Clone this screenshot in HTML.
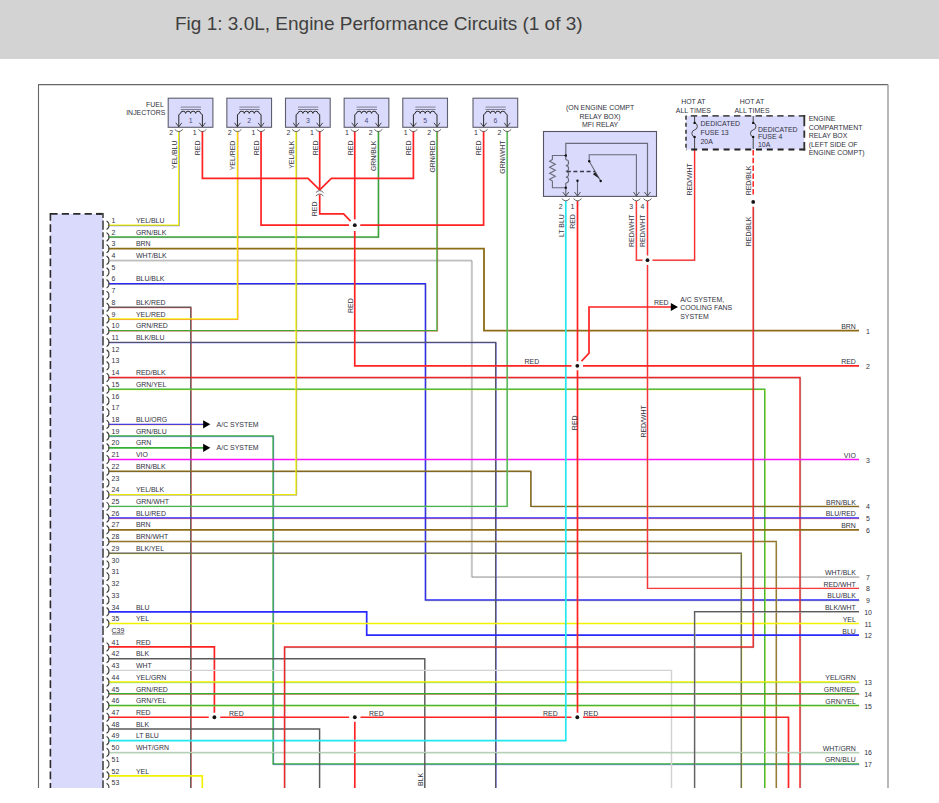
<!DOCTYPE html>
<html><head><meta charset="utf-8">
<style>
html,body{margin:0;padding:0;background:#fff;width:939px;height:803px;overflow:hidden;}
#hdr{position:absolute;left:0;top:0;width:939px;height:59px;background:#d3d3d3;}
#ttl{position:absolute;left:175px;top:12.5px;font-family:"Liberation Sans",sans-serif;font-size:19px;color:#404040;white-space:nowrap;}
svg{position:absolute;left:0;top:0;}
text{font-family:"Liberation Sans",sans-serif;}
</style></head><body>
<div id="hdr"><div id="ttl">Fig 1: 3.0L, Engine Performance Circuits (1 of 3)</div></div>
<svg width="939" height="803" viewBox="0 0 939 803">
<defs><clipPath id="cp"><rect x="0" y="60" width="939" height="728.0"/></clipPath></defs>
<g clip-path="url(#cp)">
<rect x="0" y="60" width="939" height="743" fill="#fff"/>
<path d="M38.5,788.0 V84.6 H888" stroke="#666" stroke-width="1.1" fill="none"/>
<path d="M888,84.6 V788.0" stroke="#9a9a9a" stroke-width="1.4" fill="none"/>
<rect x="50.4" y="213.8" width="52.6" height="600" fill="#dadafc"/>
<path d="M50.4,213.8 H103" stroke="#2a2a2a" stroke-width="1.8" stroke-dasharray="7.2,4.2" fill="none"/>
<path d="M103,213.8 H96.2" stroke="#2a2a2a" stroke-width="1.8" fill="none"/>
<path d="M50.4,212.9 V800" stroke="#2a2a2a" stroke-width="1.6" stroke-dasharray="7.8,3.6" fill="none"/>
<path d="M103,212.9 V800" stroke="#505050" stroke-width="1.7" stroke-dasharray="5.1,2.5,9.2,2.5" stroke-dashoffset="0" fill="none"/>
<path d="M108.60,225.20 L178.80,225.20 L178.80,131.00" stroke="#f2f200" stroke-width="1.45" fill="none" />
<path d="M108.60,225.20 L178.80,225.20 L178.80,131.00" stroke="#2a2aff" stroke-width="0.7" fill="none" opacity="0.5" transform="translate(0.7,0.7)" />
<path d="M108.60,236.91 L378.35,236.91 L378.35,131.00" stroke="#35b035" stroke-width="1.45" fill="none" />
<path d="M108.60,236.91 L378.35,236.91 L378.35,131.00" stroke="#5a5a5a" stroke-width="0.7" fill="none" opacity="0.5" transform="translate(0.7,0.7)" />
<path d="M108.60,248.63 L484.00,248.63 L484.00,330.63 L859.00,330.63" stroke="#8c6c14" stroke-width="1.8" fill="none" />
<path d="M108.60,260.34 L471.50,260.34 L471.50,576.65 L859.00,576.65" stroke="#d2d2d2" stroke-width="1.45" fill="none" />
<path d="M108.60,260.34 L471.50,260.34 L471.50,576.65 L859.00,576.65" stroke="#5a5a5a" stroke-width="0.7" fill="none" opacity="0.5" transform="translate(0.7,0.7)" />
<path d="M108.60,283.77 L425.40,283.77 L425.40,600.08 L859.00,600.08" stroke="#2a2aff" stroke-width="1.45" fill="none" />
<path d="M108.60,283.77 L425.40,283.77 L425.40,600.08 L859.00,600.08" stroke="#5a5a5a" stroke-width="0.7" fill="none" opacity="0.5" transform="translate(0.7,0.7)" />
<path d="M108.60,307.20 L190.80,307.20 L190.80,788.00" stroke="#5a5a5a" stroke-width="1.45" fill="none" />
<path d="M108.60,307.20 L190.80,307.20 L190.80,788.00" stroke="#ff2222" stroke-width="0.7" fill="none" opacity="0.5" transform="translate(0.7,0.7)" />
<path d="M108.60,318.92 L237.45,318.92 L237.45,131.00" stroke="#f2f200" stroke-width="1.45" fill="none" />
<path d="M108.60,318.92 L237.45,318.92 L237.45,131.00" stroke="#ff2222" stroke-width="0.7" fill="none" opacity="0.5" transform="translate(0.7,0.7)" />
<path d="M108.60,330.63 L437.00,330.63 L437.00,131.00" stroke="#35b035" stroke-width="1.45" fill="none" />
<path d="M108.60,330.63 L437.00,330.63 L437.00,131.00" stroke="#ff2222" stroke-width="0.7" fill="none" opacity="0.5" transform="translate(0.7,0.7)" />
<path d="M108.60,342.35 L495.70,342.35 L495.70,788.00" stroke="#5a5a5a" stroke-width="1.45" fill="none" />
<path d="M108.60,342.35 L495.70,342.35 L495.70,788.00" stroke="#2a2aff" stroke-width="0.7" fill="none" opacity="0.5" transform="translate(0.7,0.7)" />
<path d="M108.60,377.50 L800.00,377.50 L800.00,788.00" stroke="#ff2222" stroke-width="1.45" fill="none" />
<path d="M108.60,377.50 L800.00,377.50 L800.00,788.00" stroke="#5a5a5a" stroke-width="0.7" fill="none" opacity="0.5" transform="translate(0.7,0.7)" />
<path d="M108.60,389.21 L764.80,389.21 L764.80,788.00" stroke="#35b035" stroke-width="1.45" fill="none" />
<path d="M108.60,389.21 L764.80,389.21 L764.80,788.00" stroke="#f2f200" stroke-width="0.7" fill="none" opacity="0.5" transform="translate(0.7,0.7)" />
<path d="M108.60,424.36 L204.00,424.36" stroke="#2a2aff" stroke-width="1.45" fill="none" />
<path d="M108.60,424.36 L204.00,424.36" stroke="#ff9900" stroke-width="0.7" fill="none" opacity="0.5" transform="translate(0.7,0.7)" />
<path d="M108.60,436.07 L273.10,436.07 L273.10,764.09 L859.00,764.09" stroke="#35b035" stroke-width="1.45" fill="none" />
<path d="M108.60,436.07 L273.10,436.07 L273.10,764.09 L859.00,764.09" stroke="#2a2aff" stroke-width="0.7" fill="none" opacity="0.5" transform="translate(0.7,0.7)" />
<path d="M108.60,447.78 L204.00,447.78" stroke="#35b035" stroke-width="1.7" fill="none" />
<path d="M108.60,459.50 L859.00,459.50" stroke="#ff10ff" stroke-width="1.45" fill="none" />
<path d="M108.60,471.21 L530.80,471.21 L530.80,506.36 L859.00,506.36" stroke="#8c6c14" stroke-width="1.45" fill="none" />
<path d="M108.60,471.21 L530.80,471.21 L530.80,506.36 L859.00,506.36" stroke="#5a5a5a" stroke-width="0.7" fill="none" opacity="0.5" transform="translate(0.7,0.7)" />
<path d="M108.60,494.64 L296.10,494.64 L296.10,131.00" stroke="#f2f200" stroke-width="1.45" fill="none" />
<path d="M108.60,494.64 L296.10,494.64 L296.10,131.00" stroke="#5a5a5a" stroke-width="0.7" fill="none" opacity="0.5" transform="translate(0.7,0.7)" />
<path d="M108.60,506.36 L507.20,506.36 L507.20,131.00" stroke="#35b035" stroke-width="1.45" fill="none" />
<path d="M108.60,506.36 L507.20,506.36 L507.20,131.00" stroke="#d2d2d2" stroke-width="0.7" fill="none" opacity="0.5" transform="translate(0.7,0.7)" />
<path d="M108.60,518.08 L859.00,518.08" stroke="#2a2aff" stroke-width="1.45" fill="none" />
<path d="M108.60,518.08 L859.00,518.08" stroke="#ff2222" stroke-width="0.7" fill="none" opacity="0.5" transform="translate(0.7,0.7)" />
<path d="M108.60,529.79 L859.00,529.79" stroke="#8c6c14" stroke-width="1.8" fill="none" />
<path d="M108.60,541.50 L776.30,541.50 L776.30,788.00" stroke="#8c6c14" stroke-width="1.45" fill="none" />
<path d="M108.60,541.50 L776.30,541.50 L776.30,788.00" stroke="#d2d2d2" stroke-width="0.7" fill="none" opacity="0.5" transform="translate(0.7,0.7)" />
<path d="M108.60,553.22 L741.30,553.22 L741.30,788.00" stroke="#5a5a5a" stroke-width="1.45" fill="none" />
<path d="M108.60,553.22 L741.30,553.22 L741.30,788.00" stroke="#f2f200" stroke-width="0.7" fill="none" opacity="0.5" transform="translate(0.7,0.7)" />
<path d="M108.60,611.79 L366.70,611.79 L366.70,635.22 L859.00,635.22" stroke="#2a2aff" stroke-width="1.7" fill="none" />
<path d="M108.60,623.51 L859.00,623.51" stroke="#f2f200" stroke-width="1.7" fill="none" />
<path d="M108.60,646.94 L214.40,646.94 L214.40,712.73" stroke="#ff2222" stroke-width="1.7" fill="none" />
<path d="M108.60,658.65 L424.80,658.65 L424.80,788.00" stroke="#5a5a5a" stroke-width="1.45" fill="none" />
<path d="M108.60,670.37 L671.50,670.37 L671.50,788.00" stroke="#d2d2d2" stroke-width="1.45" fill="none" />
<path d="M108.60,682.09 L859.00,682.09" stroke="#f2f200" stroke-width="1.45" fill="none" />
<path d="M108.60,682.09 L859.00,682.09" stroke="#35b035" stroke-width="0.7" fill="none" opacity="0.5" transform="translate(0.7,0.7)" />
<path d="M108.60,693.80 L859.00,693.80" stroke="#35b035" stroke-width="1.45" fill="none" />
<path d="M108.60,693.80 L859.00,693.80" stroke="#ff2222" stroke-width="0.7" fill="none" opacity="0.5" transform="translate(0.7,0.7)" />
<path d="M108.60,705.51 L859.00,705.51" stroke="#35b035" stroke-width="1.45" fill="none" />
<path d="M108.60,705.51 L859.00,705.51" stroke="#f2f200" stroke-width="0.7" fill="none" opacity="0.5" transform="translate(0.7,0.7)" />
<path d="M108.60,717.23 L208.80,717.23" stroke="#ff2222" stroke-width="1.7" fill="none" />
<path d="M220.20,717.23 L349.20,717.23" stroke="#ff2222" stroke-width="1.7" fill="none" />
<path d="M360.50,717.23 L571.50,717.23" stroke="#ff2222" stroke-width="1.7" fill="none" />
<path d="M583.00,717.23 L788.50,717.23 L788.50,788.00" stroke="#ff2222" stroke-width="1.7" fill="none" />
<path d="M354.80,721.73 L354.80,788.00" stroke="#ff2222" stroke-width="1.7" fill="none" />
<path d="M108.60,728.94 L319.60,728.94 L319.60,788.00" stroke="#5a5a5a" stroke-width="1.45" fill="none" />
<path d="M108.60,740.66 L565.80,740.66 L565.80,201.00" stroke="#22e8ee" stroke-width="1.7" fill="none" />
<path d="M108.60,752.38 L859.00,752.38" stroke="#d2d2d2" stroke-width="1.45" fill="none" />
<path d="M108.60,752.38 L859.00,752.38" stroke="#35b035" stroke-width="0.7" fill="none" opacity="0.5" transform="translate(0.7,0.7)" />
<path d="M108.60,775.81 L202.30,775.81 L202.30,788.00" stroke="#f2f200" stroke-width="1.7" fill="none" />
<path d="M577.50,201.00 L577.50,361.28" stroke="#ff2222" stroke-width="1.7" fill="none" />
<path d="M577.50,370.28 L577.50,712.73" stroke="#ff2222" stroke-width="1.7" fill="none" />
<path d="M636.40,201.00 L636.40,260.20 L642.50,260.20" stroke="#ff2222" stroke-width="1.45" fill="none" />
<path d="M636.40,201.00 L636.40,260.20 L642.50,260.20" stroke="#d2d2d2" stroke-width="0.7" fill="none" opacity="0.5" transform="translate(0.7,0.7)" />
<path d="M652.50,260.20 L694.60,260.20 L694.60,149.00" stroke="#ff2222" stroke-width="1.45" fill="none" />
<path d="M652.50,260.20 L694.60,260.20 L694.60,149.00" stroke="#d2d2d2" stroke-width="0.7" fill="none" opacity="0.5" transform="translate(0.7,0.7)" />
<path d="M647.50,201.00 L647.50,255.50" stroke="#ff2222" stroke-width="1.45" fill="none" />
<path d="M647.50,201.00 L647.50,255.50" stroke="#d2d2d2" stroke-width="0.7" fill="none" opacity="0.5" transform="translate(0.7,0.7)" />
<path d="M647.50,265.00 L647.50,588.37 L859.00,588.37" stroke="#ff2222" stroke-width="1.45" fill="none" />
<path d="M647.50,265.00 L647.50,588.37 L859.00,588.37" stroke="#d2d2d2" stroke-width="0.7" fill="none" opacity="0.5" transform="translate(0.7,0.7)" />
<path d="M753.2,150 L753.2,196.5" stroke="#ff2222" stroke-width="1.5" stroke-dasharray="5.5,2.3" fill="none"/>
<path d="M753.20,206.70 L753.20,646.94 L284.50,646.94 L284.50,788.00" stroke="#ff2222" stroke-width="1.45" fill="none" />
<path d="M753.20,206.70 L753.20,646.94 L284.50,646.94 L284.50,788.00" stroke="#5a5a5a" stroke-width="0.7" fill="none" opacity="0.5" transform="translate(0.7,0.7)" />
<path d="M694.60,788.00 L694.60,611.79 L859.00,611.79" stroke="#5a5a5a" stroke-width="1.45" fill="none" />
<path d="M694.60,788.00 L694.60,611.79 L859.00,611.79" stroke="#d2d2d2" stroke-width="0.7" fill="none" opacity="0.5" transform="translate(0.7,0.7)" />
<path d="M354.75,131.00 L354.75,219.40" stroke="#ff2222" stroke-width="1.7" fill="none" />
<path d="M354.75,231.00 L354.75,365.78 L571.50,365.78" stroke="#ff2222" stroke-width="1.7" fill="none" />
<path d="M583.00,365.78 L859.00,365.78" stroke="#ff2222" stroke-width="1.7" fill="none" />
<path d="M581.50,361.28 L589.00,353.20 L589.00,307.00 L671.00,307.00" stroke="#ff2222" stroke-width="1.7" fill="none" />
<path d="M202.40,131.00 L202.40,178.30 L308.00,178.30 L319.70,189.80" stroke="#ff2222" stroke-width="1.7" fill="none" />
<path d="M413.40,131.00 L413.40,178.30 L331.40,178.30 L319.70,189.80" stroke="#ff2222" stroke-width="1.7" fill="none" />
<path d="M319.70,131.00 L319.70,189.80" stroke="#ff2222" stroke-width="1.7" fill="none" />
<path d="M319.70,194.50 L319.70,213.80 L343.60,213.80 L350.60,221.20" stroke="#ff2222" stroke-width="1.7" fill="none" />
<path d="M261.05,131.00 L261.05,225.20 L349.00,225.20" stroke="#ff2222" stroke-width="1.7" fill="none" />
<path d="M360.30,225.20 L483.60,225.20 L483.60,131.00" stroke="#ff2222" stroke-width="1.7" fill="none" />
<path d="M106.6,220.90 Q109.6,223.20 108.8,225.20 Q109.6,227.20 106.6,229.50" stroke="#3a3a3a" stroke-width="1.05" fill="none"/>
<text x="111.60" y="222.90" font-size="6.95" text-anchor="start" fill="#32323e" >1</text>
<text x="135.90" y="222.90" font-size="6.95" text-anchor="start" fill="#32323e" >YEL/BLU</text>
<path d="M106.6,232.61 Q109.6,234.91 108.8,236.91 Q109.6,238.91 106.6,241.22" stroke="#3a3a3a" stroke-width="1.05" fill="none"/>
<text x="111.60" y="234.61" font-size="6.95" text-anchor="start" fill="#32323e" >2</text>
<text x="135.90" y="234.61" font-size="6.95" text-anchor="start" fill="#32323e" >GRN/BLK</text>
<path d="M106.6,244.33 Q109.6,246.63 108.8,248.63 Q109.6,250.63 106.6,252.93" stroke="#3a3a3a" stroke-width="1.05" fill="none"/>
<text x="111.60" y="246.33" font-size="6.95" text-anchor="start" fill="#32323e" >3</text>
<text x="135.90" y="246.33" font-size="6.95" text-anchor="start" fill="#32323e" >BRN</text>
<path d="M106.6,256.04 Q109.6,258.34 108.8,260.34 Q109.6,262.34 106.6,264.64" stroke="#3a3a3a" stroke-width="1.05" fill="none"/>
<text x="111.60" y="258.04" font-size="6.95" text-anchor="start" fill="#32323e" >4</text>
<text x="135.90" y="258.04" font-size="6.95" text-anchor="start" fill="#32323e" >WHT/BLK</text>
<path d="M106.6,267.76 Q109.6,270.06 108.8,272.06 Q109.6,274.06 106.6,276.36" stroke="#3a3a3a" stroke-width="1.05" fill="none"/>
<text x="111.60" y="269.76" font-size="6.95" text-anchor="start" fill="#32323e" >5</text>
<path d="M106.6,279.47 Q109.6,281.77 108.8,283.77 Q109.6,285.77 106.6,288.07" stroke="#3a3a3a" stroke-width="1.05" fill="none"/>
<text x="111.60" y="281.47" font-size="6.95" text-anchor="start" fill="#32323e" >6</text>
<text x="135.90" y="281.47" font-size="6.95" text-anchor="start" fill="#32323e" >BLU/BLK</text>
<path d="M106.6,291.19 Q109.6,293.49 108.8,295.49 Q109.6,297.49 106.6,299.79" stroke="#3a3a3a" stroke-width="1.05" fill="none"/>
<text x="111.60" y="293.19" font-size="6.95" text-anchor="start" fill="#32323e" >7</text>
<path d="M106.6,302.90 Q109.6,305.20 108.8,307.20 Q109.6,309.20 106.6,311.50" stroke="#3a3a3a" stroke-width="1.05" fill="none"/>
<text x="111.60" y="304.90" font-size="6.95" text-anchor="start" fill="#32323e" >8</text>
<text x="135.90" y="304.90" font-size="6.95" text-anchor="start" fill="#32323e" >BLK/RED</text>
<path d="M106.6,314.62 Q109.6,316.92 108.8,318.92 Q109.6,320.92 106.6,323.22" stroke="#3a3a3a" stroke-width="1.05" fill="none"/>
<text x="111.60" y="316.62" font-size="6.95" text-anchor="start" fill="#32323e" >9</text>
<text x="135.90" y="316.62" font-size="6.95" text-anchor="start" fill="#32323e" >YEL/RED</text>
<path d="M106.6,326.33 Q109.6,328.63 108.8,330.63 Q109.6,332.63 106.6,334.94" stroke="#3a3a3a" stroke-width="1.05" fill="none"/>
<text x="111.60" y="328.33" font-size="6.95" text-anchor="start" fill="#32323e" >10</text>
<text x="135.90" y="328.33" font-size="6.95" text-anchor="start" fill="#32323e" >GRN/RED</text>
<path d="M106.6,338.05 Q109.6,340.35 108.8,342.35 Q109.6,344.35 106.6,346.65" stroke="#3a3a3a" stroke-width="1.05" fill="none"/>
<text x="111.60" y="340.05" font-size="6.95" text-anchor="start" fill="#32323e" >11</text>
<text x="135.90" y="340.05" font-size="6.95" text-anchor="start" fill="#32323e" >BLK/BLU</text>
<path d="M106.6,349.76 Q109.6,352.06 108.8,354.06 Q109.6,356.06 106.6,358.37" stroke="#3a3a3a" stroke-width="1.05" fill="none"/>
<text x="111.60" y="351.76" font-size="6.95" text-anchor="start" fill="#32323e" >12</text>
<path d="M106.6,361.48 Q109.6,363.78 108.8,365.78 Q109.6,367.78 106.6,370.08" stroke="#3a3a3a" stroke-width="1.05" fill="none"/>
<text x="111.60" y="363.48" font-size="6.95" text-anchor="start" fill="#32323e" >13</text>
<path d="M106.6,373.19 Q109.6,375.50 108.8,377.50 Q109.6,379.50 106.6,381.80" stroke="#3a3a3a" stroke-width="1.05" fill="none"/>
<text x="111.60" y="375.19" font-size="6.95" text-anchor="start" fill="#32323e" >14</text>
<text x="135.90" y="375.19" font-size="6.95" text-anchor="start" fill="#32323e" >RED/BLK</text>
<path d="M106.6,384.91 Q109.6,387.21 108.8,389.21 Q109.6,391.21 106.6,393.51" stroke="#3a3a3a" stroke-width="1.05" fill="none"/>
<text x="111.60" y="386.91" font-size="6.95" text-anchor="start" fill="#32323e" >15</text>
<text x="135.90" y="386.91" font-size="6.95" text-anchor="start" fill="#32323e" >GRN/YEL</text>
<path d="M106.6,396.62 Q109.6,398.92 108.8,400.92 Q109.6,402.92 106.6,405.22" stroke="#3a3a3a" stroke-width="1.05" fill="none"/>
<text x="111.60" y="398.62" font-size="6.95" text-anchor="start" fill="#32323e" >16</text>
<path d="M106.6,408.34 Q109.6,410.64 108.8,412.64 Q109.6,414.64 106.6,416.94" stroke="#3a3a3a" stroke-width="1.05" fill="none"/>
<text x="111.60" y="410.34" font-size="6.95" text-anchor="start" fill="#32323e" >17</text>
<path d="M106.6,420.06 Q109.6,422.36 108.8,424.36 Q109.6,426.36 106.6,428.66" stroke="#3a3a3a" stroke-width="1.05" fill="none"/>
<text x="111.60" y="422.06" font-size="6.95" text-anchor="start" fill="#32323e" >18</text>
<text x="135.90" y="422.06" font-size="6.95" text-anchor="start" fill="#32323e" >BLU/ORG</text>
<path d="M106.6,431.77 Q109.6,434.07 108.8,436.07 Q109.6,438.07 106.6,440.37" stroke="#3a3a3a" stroke-width="1.05" fill="none"/>
<text x="111.60" y="433.77" font-size="6.95" text-anchor="start" fill="#32323e" >19</text>
<text x="135.90" y="433.77" font-size="6.95" text-anchor="start" fill="#32323e" >GRN/BLU</text>
<path d="M106.6,443.48 Q109.6,445.78 108.8,447.78 Q109.6,449.78 106.6,452.08" stroke="#3a3a3a" stroke-width="1.05" fill="none"/>
<text x="111.60" y="445.48" font-size="6.95" text-anchor="start" fill="#32323e" >20</text>
<text x="135.90" y="445.48" font-size="6.95" text-anchor="start" fill="#32323e" >GRN</text>
<path d="M106.6,455.20 Q109.6,457.50 108.8,459.50 Q109.6,461.50 106.6,463.80" stroke="#3a3a3a" stroke-width="1.05" fill="none"/>
<text x="111.60" y="457.20" font-size="6.95" text-anchor="start" fill="#32323e" >21</text>
<text x="135.90" y="457.20" font-size="6.95" text-anchor="start" fill="#32323e" >VIO</text>
<path d="M106.6,466.91 Q109.6,469.21 108.8,471.21 Q109.6,473.21 106.6,475.51" stroke="#3a3a3a" stroke-width="1.05" fill="none"/>
<text x="111.60" y="468.91" font-size="6.95" text-anchor="start" fill="#32323e" >22</text>
<text x="135.90" y="468.91" font-size="6.95" text-anchor="start" fill="#32323e" >BRN/BLK</text>
<path d="M106.6,478.63 Q109.6,480.93 108.8,482.93 Q109.6,484.93 106.6,487.23" stroke="#3a3a3a" stroke-width="1.05" fill="none"/>
<text x="111.60" y="480.63" font-size="6.95" text-anchor="start" fill="#32323e" >23</text>
<path d="M106.6,490.34 Q109.6,492.64 108.8,494.64 Q109.6,496.64 106.6,498.94" stroke="#3a3a3a" stroke-width="1.05" fill="none"/>
<text x="111.60" y="492.34" font-size="6.95" text-anchor="start" fill="#32323e" >24</text>
<text x="135.90" y="492.34" font-size="6.95" text-anchor="start" fill="#32323e" >YEL/BLK</text>
<path d="M106.6,502.06 Q109.6,504.36 108.8,506.36 Q109.6,508.36 106.6,510.66" stroke="#3a3a3a" stroke-width="1.05" fill="none"/>
<text x="111.60" y="504.06" font-size="6.95" text-anchor="start" fill="#32323e" >25</text>
<text x="135.90" y="504.06" font-size="6.95" text-anchor="start" fill="#32323e" >GRN/WHT</text>
<path d="M106.6,513.78 Q109.6,516.08 108.8,518.08 Q109.6,520.08 106.6,522.38" stroke="#3a3a3a" stroke-width="1.05" fill="none"/>
<text x="111.60" y="515.78" font-size="6.95" text-anchor="start" fill="#32323e" >26</text>
<text x="135.90" y="515.78" font-size="6.95" text-anchor="start" fill="#32323e" >BLU/RED</text>
<path d="M106.6,525.49 Q109.6,527.79 108.8,529.79 Q109.6,531.79 106.6,534.09" stroke="#3a3a3a" stroke-width="1.05" fill="none"/>
<text x="111.60" y="527.49" font-size="6.95" text-anchor="start" fill="#32323e" >27</text>
<text x="135.90" y="527.49" font-size="6.95" text-anchor="start" fill="#32323e" >BRN</text>
<path d="M106.6,537.21 Q109.6,539.50 108.8,541.50 Q109.6,543.50 106.6,545.80" stroke="#3a3a3a" stroke-width="1.05" fill="none"/>
<text x="111.60" y="539.21" font-size="6.95" text-anchor="start" fill="#32323e" >28</text>
<text x="135.90" y="539.21" font-size="6.95" text-anchor="start" fill="#32323e" >BRN/WHT</text>
<path d="M106.6,548.92 Q109.6,551.22 108.8,553.22 Q109.6,555.22 106.6,557.52" stroke="#3a3a3a" stroke-width="1.05" fill="none"/>
<text x="111.60" y="550.92" font-size="6.95" text-anchor="start" fill="#32323e" >29</text>
<text x="135.90" y="550.92" font-size="6.95" text-anchor="start" fill="#32323e" >BLK/YEL</text>
<path d="M106.6,560.63 Q109.6,562.93 108.8,564.93 Q109.6,566.93 106.6,569.23" stroke="#3a3a3a" stroke-width="1.05" fill="none"/>
<text x="111.60" y="562.63" font-size="6.95" text-anchor="start" fill="#32323e" >30</text>
<path d="M106.6,572.35 Q109.6,574.65 108.8,576.65 Q109.6,578.65 106.6,580.95" stroke="#3a3a3a" stroke-width="1.05" fill="none"/>
<text x="111.60" y="574.35" font-size="6.95" text-anchor="start" fill="#32323e" >31</text>
<path d="M106.6,584.07 Q109.6,586.37 108.8,588.37 Q109.6,590.37 106.6,592.66" stroke="#3a3a3a" stroke-width="1.05" fill="none"/>
<text x="111.60" y="586.07" font-size="6.95" text-anchor="start" fill="#32323e" >32</text>
<path d="M106.6,595.78 Q109.6,598.08 108.8,600.08 Q109.6,602.08 106.6,604.38" stroke="#3a3a3a" stroke-width="1.05" fill="none"/>
<text x="111.60" y="597.78" font-size="6.95" text-anchor="start" fill="#32323e" >33</text>
<path d="M106.6,607.50 Q109.6,609.79 108.8,611.79 Q109.6,613.79 106.6,616.09" stroke="#3a3a3a" stroke-width="1.05" fill="none"/>
<text x="111.60" y="609.50" font-size="6.95" text-anchor="start" fill="#32323e" >34</text>
<text x="135.90" y="609.50" font-size="6.95" text-anchor="start" fill="#32323e" >BLU</text>
<path d="M106.6,619.21 Q109.6,621.51 108.8,623.51 Q109.6,625.51 106.6,627.81" stroke="#3a3a3a" stroke-width="1.05" fill="none"/>
<text x="111.60" y="621.21" font-size="6.95" text-anchor="start" fill="#32323e" >35</text>
<text x="135.90" y="621.21" font-size="6.95" text-anchor="start" fill="#32323e" >YEL</text>
<path d="M106.6,642.64 Q109.6,644.94 108.8,646.94 Q109.6,648.94 106.6,651.24" stroke="#3a3a3a" stroke-width="1.05" fill="none"/>
<text x="111.60" y="644.64" font-size="6.95" text-anchor="start" fill="#32323e" >41</text>
<text x="135.90" y="644.64" font-size="6.95" text-anchor="start" fill="#32323e" >RED</text>
<path d="M106.6,654.36 Q109.6,656.65 108.8,658.65 Q109.6,660.65 106.6,662.95" stroke="#3a3a3a" stroke-width="1.05" fill="none"/>
<text x="111.60" y="656.36" font-size="6.95" text-anchor="start" fill="#32323e" >42</text>
<text x="135.90" y="656.36" font-size="6.95" text-anchor="start" fill="#32323e" >BLK</text>
<path d="M106.6,666.07 Q109.6,668.37 108.8,670.37 Q109.6,672.37 106.6,674.67" stroke="#3a3a3a" stroke-width="1.05" fill="none"/>
<text x="111.60" y="668.07" font-size="6.95" text-anchor="start" fill="#32323e" >43</text>
<text x="135.90" y="668.07" font-size="6.95" text-anchor="start" fill="#32323e" >WHT</text>
<path d="M106.6,677.79 Q109.6,680.09 108.8,682.09 Q109.6,684.09 106.6,686.38" stroke="#3a3a3a" stroke-width="1.05" fill="none"/>
<text x="111.60" y="679.79" font-size="6.95" text-anchor="start" fill="#32323e" >44</text>
<text x="135.90" y="679.79" font-size="6.95" text-anchor="start" fill="#32323e" >YEL/GRN</text>
<path d="M106.6,689.50 Q109.6,691.80 108.8,693.80 Q109.6,695.80 106.6,698.10" stroke="#3a3a3a" stroke-width="1.05" fill="none"/>
<text x="111.60" y="691.50" font-size="6.95" text-anchor="start" fill="#32323e" >45</text>
<text x="135.90" y="691.50" font-size="6.95" text-anchor="start" fill="#32323e" >GRN/RED</text>
<path d="M106.6,701.22 Q109.6,703.51 108.8,705.51 Q109.6,707.51 106.6,709.81" stroke="#3a3a3a" stroke-width="1.05" fill="none"/>
<text x="111.60" y="703.22" font-size="6.95" text-anchor="start" fill="#32323e" >46</text>
<text x="135.90" y="703.22" font-size="6.95" text-anchor="start" fill="#32323e" >GRN/YEL</text>
<path d="M106.6,712.93 Q109.6,715.23 108.8,717.23 Q109.6,719.23 106.6,721.53" stroke="#3a3a3a" stroke-width="1.05" fill="none"/>
<text x="111.60" y="714.93" font-size="6.95" text-anchor="start" fill="#32323e" >47</text>
<text x="135.90" y="714.93" font-size="6.95" text-anchor="start" fill="#32323e" >RED</text>
<path d="M106.6,724.64 Q109.6,726.94 108.8,728.94 Q109.6,730.94 106.6,733.24" stroke="#3a3a3a" stroke-width="1.05" fill="none"/>
<text x="111.60" y="726.64" font-size="6.95" text-anchor="start" fill="#32323e" >48</text>
<text x="135.90" y="726.64" font-size="6.95" text-anchor="start" fill="#32323e" >BLK</text>
<path d="M106.6,736.36 Q109.6,738.66 108.8,740.66 Q109.6,742.66 106.6,744.96" stroke="#3a3a3a" stroke-width="1.05" fill="none"/>
<text x="111.60" y="738.36" font-size="6.95" text-anchor="start" fill="#32323e" >49</text>
<text x="135.90" y="738.36" font-size="6.95" text-anchor="start" fill="#32323e" >LT BLU</text>
<path d="M106.6,748.08 Q109.6,750.38 108.8,752.38 Q109.6,754.38 106.6,756.67" stroke="#3a3a3a" stroke-width="1.05" fill="none"/>
<text x="111.60" y="750.08" font-size="6.95" text-anchor="start" fill="#32323e" >50</text>
<text x="135.90" y="750.08" font-size="6.95" text-anchor="start" fill="#32323e" >WHT/GRN</text>
<path d="M106.6,759.79 Q109.6,762.09 108.8,764.09 Q109.6,766.09 106.6,768.39" stroke="#3a3a3a" stroke-width="1.05" fill="none"/>
<text x="111.60" y="761.79" font-size="6.95" text-anchor="start" fill="#32323e" >51</text>
<path d="M106.6,771.51 Q109.6,773.81 108.8,775.81 Q109.6,777.81 106.6,780.11" stroke="#3a3a3a" stroke-width="1.05" fill="none"/>
<text x="111.60" y="773.51" font-size="6.95" text-anchor="start" fill="#32323e" >52</text>
<text x="135.90" y="773.51" font-size="6.95" text-anchor="start" fill="#32323e" >YEL</text>
<path d="M106.6,783.22 Q109.6,785.52 108.8,787.52 Q109.6,789.52 106.6,791.82" stroke="#3a3a3a" stroke-width="1.05" fill="none"/>
<text x="111.60" y="785.22" font-size="6.95" text-anchor="start" fill="#32323e" >53</text>
<text x="111.60" y="632.82" font-size="6.95" text-anchor="start" fill="#32323e" >C39</text>
<path d="M112,634.02 H124.3" stroke="#555" stroke-width="0.8"/>
<text x="855.80" y="329.03" font-size="6.95" text-anchor="end" fill="#32323e" >BRN</text>
<text x="868.00" y="333.63" font-size="6.95" text-anchor="middle" fill="#32323e" >1</text>
<text x="855.80" y="364.18" font-size="6.95" text-anchor="end" fill="#32323e" >RED</text>
<text x="868.00" y="368.78" font-size="6.95" text-anchor="middle" fill="#32323e" >2</text>
<text x="855.80" y="457.90" font-size="6.95" text-anchor="end" fill="#32323e" >VIO</text>
<text x="868.00" y="462.50" font-size="6.95" text-anchor="middle" fill="#32323e" >3</text>
<text x="855.80" y="504.76" font-size="6.95" text-anchor="end" fill="#32323e" >BRN/BLK</text>
<text x="868.00" y="509.36" font-size="6.95" text-anchor="middle" fill="#32323e" >4</text>
<text x="855.80" y="516.48" font-size="6.95" text-anchor="end" fill="#32323e" >BLU/RED</text>
<text x="868.00" y="521.08" font-size="6.95" text-anchor="middle" fill="#32323e" >5</text>
<text x="855.80" y="528.19" font-size="6.95" text-anchor="end" fill="#32323e" >BRN</text>
<text x="868.00" y="532.79" font-size="6.95" text-anchor="middle" fill="#32323e" >6</text>
<text x="855.80" y="575.05" font-size="6.95" text-anchor="end" fill="#32323e" >WHT/BLK</text>
<text x="868.00" y="579.65" font-size="6.95" text-anchor="middle" fill="#32323e" >7</text>
<text x="855.80" y="586.76" font-size="6.95" text-anchor="end" fill="#32323e" >RED/WHT</text>
<text x="868.00" y="591.37" font-size="6.95" text-anchor="middle" fill="#32323e" >8</text>
<text x="855.80" y="598.48" font-size="6.95" text-anchor="end" fill="#32323e" >BLU/BLK</text>
<text x="868.00" y="603.08" font-size="6.95" text-anchor="middle" fill="#32323e" >9</text>
<text x="855.80" y="610.19" font-size="6.95" text-anchor="end" fill="#32323e" >BLK/WHT</text>
<text x="868.00" y="614.79" font-size="6.95" text-anchor="middle" fill="#32323e" >10</text>
<text x="855.80" y="621.91" font-size="6.95" text-anchor="end" fill="#32323e" >YEL</text>
<text x="868.00" y="626.51" font-size="6.95" text-anchor="middle" fill="#32323e" >11</text>
<text x="855.80" y="633.62" font-size="6.95" text-anchor="end" fill="#32323e" >BLU</text>
<text x="868.00" y="638.22" font-size="6.95" text-anchor="middle" fill="#32323e" >12</text>
<text x="855.80" y="680.49" font-size="6.95" text-anchor="end" fill="#32323e" >YEL/GRN</text>
<text x="868.00" y="685.09" font-size="6.95" text-anchor="middle" fill="#32323e" >13</text>
<text x="855.80" y="692.20" font-size="6.95" text-anchor="end" fill="#32323e" >GRN/RED</text>
<text x="868.00" y="696.80" font-size="6.95" text-anchor="middle" fill="#32323e" >14</text>
<text x="855.80" y="703.91" font-size="6.95" text-anchor="end" fill="#32323e" >GRN/YEL</text>
<text x="868.00" y="708.51" font-size="6.95" text-anchor="middle" fill="#32323e" >15</text>
<text x="855.80" y="750.77" font-size="6.95" text-anchor="end" fill="#32323e" >WHT/GRN</text>
<text x="868.00" y="755.38" font-size="6.95" text-anchor="middle" fill="#32323e" >16</text>
<text x="855.80" y="762.49" font-size="6.95" text-anchor="end" fill="#32323e" >GRN/BLU</text>
<text x="868.00" y="767.09" font-size="6.95" text-anchor="middle" fill="#32323e" >17</text>
<path d="M203.10,420.25 L210.30,424.36 L203.10,428.46 Z" fill="#000"/>
<text x="216.60" y="426.75" font-size="6.95" text-anchor="start" fill="#32323e" >A/C SYSTEM</text>
<path d="M203.10,443.68 L210.30,447.78 L203.10,451.88 Z" fill="#000"/>
<text x="216.60" y="450.18" font-size="6.95" text-anchor="start" fill="#32323e" >A/C SYSTEM</text>
<path d="M670.80,302.90 L678.00,307.00 L670.80,311.10 Z" fill="#000"/>
<text x="653.90" y="305.20" font-size="6.95" text-anchor="start" fill="#32323e" >RED</text>
<text x="680.20" y="301.60" font-size="6.95" text-anchor="start" fill="#32323e" >A/C SYSTEM,</text>
<text x="680.20" y="309.90" font-size="6.95" text-anchor="start" fill="#32323e" >COOLING FANS</text>
<text x="680.20" y="318.70" font-size="6.95" text-anchor="start" fill="#32323e" >SYSTEM</text>
<text x="229.00" y="715.73" font-size="6.95" text-anchor="start" fill="#32323e" >RED</text>
<text x="369.00" y="715.73" font-size="6.95" text-anchor="start" fill="#32323e" >RED</text>
<text x="543.00" y="715.73" font-size="6.95" text-anchor="start" fill="#32323e" >RED</text>
<text x="583.50" y="715.73" font-size="6.95" text-anchor="start" fill="#32323e" >RED</text>
<text x="524.50" y="364.48" font-size="6.95" text-anchor="start" fill="#32323e" >RED</text>
<circle cx="214.40" cy="717.23" r="1.9" fill="#111"/>
<circle cx="354.80" cy="717.23" r="1.9" fill="#111"/>
<circle cx="577.30" cy="717.23" r="1.9" fill="#111"/>
<circle cx="577.30" cy="365.78" r="1.9" fill="#111"/>
<circle cx="354.80" cy="225.20" r="1.9" fill="#111"/>
<circle cx="647.50" cy="260.20" r="1.9" fill="#111"/>
<circle cx="753.20" cy="201.90" r="1.9" fill="#111"/>
<text transform="translate(176.60,140.60) rotate(-90)" font-size="6.95" text-anchor="end" fill="#32323e">YEL/BLU</text>
<text transform="translate(200.20,140.60) rotate(-90)" font-size="6.95" text-anchor="end" fill="#32323e">RED</text>
<text transform="translate(235.25,140.60) rotate(-90)" font-size="6.95" text-anchor="end" fill="#32323e">YEL/RED</text>
<text transform="translate(258.85,140.60) rotate(-90)" font-size="6.95" text-anchor="end" fill="#32323e">RED</text>
<text transform="translate(293.90,140.60) rotate(-90)" font-size="6.95" text-anchor="end" fill="#32323e">YEL/BLK</text>
<text transform="translate(317.50,140.60) rotate(-90)" font-size="6.95" text-anchor="end" fill="#32323e">RED</text>
<text transform="translate(352.55,140.60) rotate(-90)" font-size="6.95" text-anchor="end" fill="#32323e">RED</text>
<text transform="translate(376.15,140.60) rotate(-90)" font-size="6.95" text-anchor="end" fill="#32323e">GRN/BLK</text>
<text transform="translate(411.20,140.60) rotate(-90)" font-size="6.95" text-anchor="end" fill="#32323e">RED</text>
<text transform="translate(434.80,140.60) rotate(-90)" font-size="6.95" text-anchor="end" fill="#32323e">GRN/RED</text>
<text transform="translate(481.40,140.60) rotate(-90)" font-size="6.95" text-anchor="end" fill="#32323e">RED</text>
<text transform="translate(505.00,140.60) rotate(-90)" font-size="6.95" text-anchor="end" fill="#32323e">GRN/WHT</text>
<text transform="translate(316.50,201.60) rotate(-90)" font-size="6.95" text-anchor="end" fill="#32323e">RED</text>
<text transform="translate(352.55,312.90) rotate(-90)" font-size="6.95" text-anchor="start" fill="#32323e">RED</text>
<text transform="translate(563.60,214.20) rotate(-90)" font-size="6.95" text-anchor="end" fill="#32323e">LT BLU</text>
<text transform="translate(575.30,214.20) rotate(-90)" font-size="6.95" text-anchor="end" fill="#32323e">RED</text>
<text transform="translate(634.20,214.60) rotate(-90)" font-size="6.95" text-anchor="end" fill="#32323e">RED/WHT</text>
<text transform="translate(645.30,214.60) rotate(-90)" font-size="6.95" text-anchor="end" fill="#32323e">RED/WHT</text>
<text transform="translate(576.50,422.80) rotate(-90)" font-size="6.95" text-anchor="middle" fill="#32323e">RED</text>
<text transform="translate(646.30,421.40) rotate(-90)" font-size="6.95" text-anchor="middle" fill="#32323e">RED/WHT</text>
<text transform="translate(692.40,163.20) rotate(-90)" font-size="6.95" text-anchor="end" fill="#32323e">RED/WHT</text>
<text transform="translate(751.00,165.60) rotate(-90)" font-size="6.95" text-anchor="end" fill="#32323e">RED/BLK</text>
<text transform="translate(751.00,216.50) rotate(-90)" font-size="6.95" text-anchor="end" fill="#32323e">RED/BLK</text>
<text transform="translate(422.60,772.80) rotate(-90)" font-size="6.95" text-anchor="end" fill="#32323e">BLK</text>
<rect x="168.20" y="98.2" width="44.7" height="29.10" fill="#dadafc" stroke="#5e5e6e" stroke-width="1.1"/>
<path d="M180.70,107.1 H201.00 M180.70,109.5 H201.00" stroke="#777788" stroke-width="0.9"/>
<path d="M178.80,126.8 V114.6 L180.60,113.4 A2.50,2.2 0 0 1 185.60,113.4 A2.50,2.2 0 0 1 190.60,113.4 A2.50,2.2 0 0 1 195.60,113.4 A2.50,2.2 0 0 1 200.60,113.4 L202.40,114.6 V126.8" stroke="#2a2a2a" stroke-width="1" fill="none"/>
<path d="M175.80,122.8 L178.80,126.8 L181.80,122.8" stroke="#333" stroke-width="0.9" fill="none"/>
<path d="M199.40,122.8 L202.40,126.8 L205.40,122.8" stroke="#333" stroke-width="0.9" fill="none"/>
<text x="190.60" y="123.00" font-size="6.95" text-anchor="middle" fill="#4a4a7a" >1</text>
<path d="M174.80,129.4 Q178.80,133.8 182.80,129.4" stroke="#555" stroke-width="0.9" fill="none"/>
<text x="173.00" y="134.80" font-size="6.95" text-anchor="end" fill="#32323e" >2</text>
<path d="M198.40,129.4 Q202.40,133.8 206.40,129.4" stroke="#555" stroke-width="0.9" fill="none"/>
<text x="196.60" y="134.80" font-size="6.95" text-anchor="end" fill="#32323e" >1</text>
<rect x="226.85" y="98.2" width="44.7" height="29.10" fill="#dadafc" stroke="#5e5e6e" stroke-width="1.1"/>
<path d="M239.35,107.1 H259.65 M239.35,109.5 H259.65" stroke="#777788" stroke-width="0.9"/>
<path d="M237.45,126.8 V114.6 L239.25,113.4 A2.50,2.2 0 0 1 244.25,113.4 A2.50,2.2 0 0 1 249.25,113.4 A2.50,2.2 0 0 1 254.25,113.4 A2.50,2.2 0 0 1 259.25,113.4 L261.05,114.6 V126.8" stroke="#2a2a2a" stroke-width="1" fill="none"/>
<path d="M234.45,122.8 L237.45,126.8 L240.45,122.8" stroke="#333" stroke-width="0.9" fill="none"/>
<path d="M258.05,122.8 L261.05,126.8 L264.05,122.8" stroke="#333" stroke-width="0.9" fill="none"/>
<text x="249.25" y="123.00" font-size="6.95" text-anchor="middle" fill="#4a4a7a" >2</text>
<path d="M233.45,129.4 Q237.45,133.8 241.45,129.4" stroke="#555" stroke-width="0.9" fill="none"/>
<text x="231.65" y="134.80" font-size="6.95" text-anchor="end" fill="#32323e" >2</text>
<path d="M257.05,129.4 Q261.05,133.8 265.05,129.4" stroke="#555" stroke-width="0.9" fill="none"/>
<text x="255.25" y="134.80" font-size="6.95" text-anchor="end" fill="#32323e" >1</text>
<rect x="285.50" y="98.2" width="44.7" height="29.10" fill="#dadafc" stroke="#5e5e6e" stroke-width="1.1"/>
<path d="M298.00,107.1 H318.30 M298.00,109.5 H318.30" stroke="#777788" stroke-width="0.9"/>
<path d="M296.10,126.8 V114.6 L297.90,113.4 A2.50,2.2 0 0 1 302.90,113.4 A2.50,2.2 0 0 1 307.90,113.4 A2.50,2.2 0 0 1 312.90,113.4 A2.50,2.2 0 0 1 317.90,113.4 L319.70,114.6 V126.8" stroke="#2a2a2a" stroke-width="1" fill="none"/>
<path d="M293.10,122.8 L296.10,126.8 L299.10,122.8" stroke="#333" stroke-width="0.9" fill="none"/>
<path d="M316.70,122.8 L319.70,126.8 L322.70,122.8" stroke="#333" stroke-width="0.9" fill="none"/>
<text x="307.90" y="123.00" font-size="6.95" text-anchor="middle" fill="#4a4a7a" >3</text>
<path d="M292.10,129.4 Q296.10,133.8 300.10,129.4" stroke="#555" stroke-width="0.9" fill="none"/>
<text x="290.30" y="134.80" font-size="6.95" text-anchor="end" fill="#32323e" >2</text>
<path d="M315.70,129.4 Q319.70,133.8 323.70,129.4" stroke="#555" stroke-width="0.9" fill="none"/>
<text x="313.90" y="134.80" font-size="6.95" text-anchor="end" fill="#32323e" >1</text>
<rect x="344.15" y="98.2" width="44.7" height="29.10" fill="#dadafc" stroke="#5e5e6e" stroke-width="1.1"/>
<path d="M356.65,107.1 H376.95 M356.65,109.5 H376.95" stroke="#777788" stroke-width="0.9"/>
<path d="M354.75,126.8 V114.6 L356.55,113.4 A2.50,2.2 0 0 1 361.55,113.4 A2.50,2.2 0 0 1 366.55,113.4 A2.50,2.2 0 0 1 371.55,113.4 A2.50,2.2 0 0 1 376.55,113.4 L378.35,114.6 V126.8" stroke="#2a2a2a" stroke-width="1" fill="none"/>
<path d="M351.75,122.8 L354.75,126.8 L357.75,122.8" stroke="#333" stroke-width="0.9" fill="none"/>
<path d="M375.35,122.8 L378.35,126.8 L381.35,122.8" stroke="#333" stroke-width="0.9" fill="none"/>
<text x="366.55" y="123.00" font-size="6.95" text-anchor="middle" fill="#4a4a7a" >4</text>
<path d="M350.75,129.4 Q354.75,133.8 358.75,129.4" stroke="#555" stroke-width="0.9" fill="none"/>
<text x="348.95" y="134.80" font-size="6.95" text-anchor="end" fill="#32323e" >1</text>
<path d="M374.35,129.4 Q378.35,133.8 382.35,129.4" stroke="#555" stroke-width="0.9" fill="none"/>
<text x="372.55" y="134.80" font-size="6.95" text-anchor="end" fill="#32323e" >2</text>
<rect x="402.80" y="98.2" width="44.7" height="29.10" fill="#dadafc" stroke="#5e5e6e" stroke-width="1.1"/>
<path d="M415.30,107.1 H435.60 M415.30,109.5 H435.60" stroke="#777788" stroke-width="0.9"/>
<path d="M413.40,126.8 V114.6 L415.20,113.4 A2.50,2.2 0 0 1 420.20,113.4 A2.50,2.2 0 0 1 425.20,113.4 A2.50,2.2 0 0 1 430.20,113.4 A2.50,2.2 0 0 1 435.20,113.4 L437.00,114.6 V126.8" stroke="#2a2a2a" stroke-width="1" fill="none"/>
<path d="M410.40,122.8 L413.40,126.8 L416.40,122.8" stroke="#333" stroke-width="0.9" fill="none"/>
<path d="M434.00,122.8 L437.00,126.8 L440.00,122.8" stroke="#333" stroke-width="0.9" fill="none"/>
<text x="425.20" y="123.00" font-size="6.95" text-anchor="middle" fill="#4a4a7a" >5</text>
<path d="M409.40,129.4 Q413.40,133.8 417.40,129.4" stroke="#555" stroke-width="0.9" fill="none"/>
<text x="407.60" y="134.80" font-size="6.95" text-anchor="end" fill="#32323e" >1</text>
<path d="M433.00,129.4 Q437.00,133.8 441.00,129.4" stroke="#555" stroke-width="0.9" fill="none"/>
<text x="431.20" y="134.80" font-size="6.95" text-anchor="end" fill="#32323e" >2</text>
<rect x="473.00" y="98.2" width="44.7" height="29.10" fill="#dadafc" stroke="#5e5e6e" stroke-width="1.1"/>
<path d="M485.50,107.1 H505.80 M485.50,109.5 H505.80" stroke="#777788" stroke-width="0.9"/>
<path d="M483.60,126.8 V114.6 L485.40,113.4 A2.50,2.2 0 0 1 490.40,113.4 A2.50,2.2 0 0 1 495.40,113.4 A2.50,2.2 0 0 1 500.40,113.4 A2.50,2.2 0 0 1 505.40,113.4 L507.20,114.6 V126.8" stroke="#2a2a2a" stroke-width="1" fill="none"/>
<path d="M480.60,122.8 L483.60,126.8 L486.60,122.8" stroke="#333" stroke-width="0.9" fill="none"/>
<path d="M504.20,122.8 L507.20,126.8 L510.20,122.8" stroke="#333" stroke-width="0.9" fill="none"/>
<text x="495.40" y="123.00" font-size="6.95" text-anchor="middle" fill="#4a4a7a" >6</text>
<path d="M479.60,129.4 Q483.60,133.8 487.60,129.4" stroke="#555" stroke-width="0.9" fill="none"/>
<text x="477.80" y="134.80" font-size="6.95" text-anchor="end" fill="#32323e" >1</text>
<path d="M503.20,129.4 Q507.20,133.8 511.20,129.4" stroke="#555" stroke-width="0.9" fill="none"/>
<text x="501.40" y="134.80" font-size="6.95" text-anchor="end" fill="#32323e" >2</text>
<text x="146.00" y="107.10" font-size="6.95" text-anchor="start" fill="#32323e" >FUEL</text>
<text x="126.20" y="114.80" font-size="6.95" text-anchor="start" fill="#32323e" >INJECTORS</text>
<path d="M315.90,192.6 Q319.70,188.6 323.50,192.6 M315.90,196.0 Q319.70,192.0 323.50,196.0" stroke="#555" stroke-width="0.9" fill="none"/>
<rect x="543.5" y="131.5" width="113" height="64.9" fill="#dadafc" stroke="#555566" stroke-width="1.1"/>
<path d="M565.8,155.5 V143.3 H647.5 V196 M565.8,196 V187.8 M565.8,155.5 V159.8 M565.8,183 V187.8" stroke="#6a6a7a" stroke-width="1.2" fill="none"/>
<path d="M589.2,161.2 V154.8 H636.4 V196" stroke="#6a6a7a" stroke-width="1.1" fill="none"/>
<path d="M589.2,161.2 L600.7,181" stroke="#6a6a7a" stroke-width="1.1" fill="none"/>
<path d="M595.2,172.0 L599.4,178.8 L592.9,174.2 Z" fill="#222"/>
<path d="M577.5,180.7 V196" stroke="#6a6a7a" stroke-width="1.1" fill="none"/>
<path d="M565.8,155.5 H552.4 V159.5 L549.6,161.3 L555.3,164.3 L549.6,167.3 L555.3,170.3 L549.6,173.3 L555.3,176.3 L549.6,179.3 L552.4,181 V187.8 H565.8" stroke="#6a6a7a" stroke-width="1.1" fill="none"/>
<path d="M565.8,159.8 A2.8,2.9 0 0 1 565.8,165.60 A2.8,2.9 0 0 1 565.8,171.40 A2.8,2.9 0 0 1 565.8,177.20 A2.8,2.9 0 0 1 565.8,183.00" stroke="#6a6a7a" stroke-width="1.1" fill="none"/>
<path d="M566.8,171.5 H595" stroke="#3a3a4a" stroke-width="1.4" stroke-dasharray="4,2.6" fill="none"/>
<circle cx="565.80" cy="155.50" r="1.2" fill="#111"/>
<circle cx="565.80" cy="187.80" r="1.2" fill="#111"/>
<circle cx="589.20" cy="161.20" r="1.2" fill="#111"/>
<circle cx="600.70" cy="181.00" r="1.2" fill="#111"/>
<circle cx="577.50" cy="180.70" r="1.2" fill="#111"/>
<path d="M562.80,192 L565.80,196 L568.80,192" stroke="#444" stroke-width="0.9" fill="none"/>
<path d="M561.80,198.6 Q565.80,203 569.80,198.6" stroke="#555" stroke-width="0.9" fill="none"/>
<path d="M574.50,192 L577.50,196 L580.50,192" stroke="#444" stroke-width="0.9" fill="none"/>
<path d="M573.50,198.6 Q577.50,203 581.50,198.6" stroke="#555" stroke-width="0.9" fill="none"/>
<path d="M633.40,192 L636.40,196 L639.40,192" stroke="#444" stroke-width="0.9" fill="none"/>
<path d="M632.40,198.6 Q636.40,203 640.40,198.6" stroke="#555" stroke-width="0.9" fill="none"/>
<path d="M644.50,192 L647.50,196 L650.50,192" stroke="#444" stroke-width="0.9" fill="none"/>
<path d="M643.50,198.6 Q647.50,203 651.50,198.6" stroke="#555" stroke-width="0.9" fill="none"/>
<text x="562.60" y="209.00" font-size="6.95" text-anchor="end" fill="#32323e" >2</text>
<text x="574.30" y="209.00" font-size="6.95" text-anchor="end" fill="#32323e" >1</text>
<text x="633.20" y="209.00" font-size="6.95" text-anchor="end" fill="#32323e" >3</text>
<text x="644.30" y="209.00" font-size="6.95" text-anchor="end" fill="#32323e" >4</text>
<text x="600.10" y="110.20" font-size="6.95" text-anchor="middle" fill="#32323e" >(ON ENGINE COMPT</text>
<text x="600.10" y="118.60" font-size="6.95" text-anchor="middle" fill="#32323e" >RELAY BOX)</text>
<text x="600.10" y="126.80" font-size="6.95" text-anchor="middle" fill="#32323e" >MFI RELAY</text>
<rect x="686" y="115.8" width="118.3" height="33.7" fill="#dadafc"/>
<path d="M805.2,115.8 H686" stroke="#505050" stroke-width="1.8" stroke-dasharray="6.4,4.4" fill="none"/>
<path d="M805.2,149.5 H686" stroke="#202020" stroke-width="1.8" stroke-dasharray="6.0,4.8" fill="none"/>
<path d="M686,115.8 V149.5" stroke="#505050" stroke-width="1.8" stroke-dasharray="4,3" fill="none"/>
<path d="M804.3,114.9 V150.4" stroke="#303030" stroke-width="1.8" stroke-dasharray="11.4,4.3,7.2,4.3,9" fill="none"/>
<path d="M694.6,116 V122.9 A3.6,3.6 0 0 1 694.6,129.9 A3.6,3.6 0 0 0 694.6,136.9 V149" stroke="#444" stroke-width="1" fill="none"/>
<circle cx="694.60" cy="122.90" r="1.2" fill="#111"/>
<circle cx="694.60" cy="136.90" r="1.2" fill="#111"/>
<path d="M753.2,116 V122.9 A3.6,3.6 0 0 1 753.2,129.9 A3.6,3.6 0 0 0 753.2,136.9 V149" stroke="#444" stroke-width="1" fill="none"/>
<circle cx="753.20" cy="122.90" r="1.2" fill="#111"/>
<circle cx="753.20" cy="136.90" r="1.2" fill="#111"/>
<text x="693.40" y="104.30" font-size="6.95" text-anchor="middle" fill="#32323e" >HOT AT</text>
<text x="693.40" y="112.60" font-size="6.95" text-anchor="middle" fill="#32323e" >ALL TIMES</text>
<text x="752.00" y="104.30" font-size="6.95" text-anchor="middle" fill="#32323e" >HOT AT</text>
<text x="752.00" y="112.60" font-size="6.95" text-anchor="middle" fill="#32323e" >ALL TIMES</text>
<text x="700.50" y="126.00" font-size="6.95" text-anchor="start" fill="#32323e" >DEDICATED</text>
<text x="700.50" y="134.90" font-size="6.95" text-anchor="start" fill="#32323e" >FUSE 13</text>
<text x="700.50" y="143.50" font-size="6.95" text-anchor="start" fill="#32323e" >20A</text>
<text x="758.00" y="131.80" font-size="6.95" text-anchor="start" fill="#32323e" >DEDICATED</text>
<text x="758.00" y="139.40" font-size="6.95" text-anchor="start" fill="#32323e" >FUSE 4</text>
<text x="758.00" y="147.00" font-size="6.95" text-anchor="start" fill="#32323e" >10A</text>
<text x="808.70" y="120.80" font-size="6.95" text-anchor="start" fill="#32323e" >ENGINE</text>
<text x="808.70" y="129.90" font-size="6.95" text-anchor="start" fill="#32323e" >COMPARTMENT</text>
<text x="808.70" y="137.70" font-size="6.95" text-anchor="start" fill="#32323e" >RELAY BOX</text>
<text x="808.70" y="147.00" font-size="6.95" text-anchor="start" fill="#32323e" >(LEFT SIDE OF</text>
<text x="808.70" y="155.30" font-size="6.95" text-anchor="start" fill="#32323e" >ENGINE COMPT)</text>
</g>
</svg>
</body></html>
